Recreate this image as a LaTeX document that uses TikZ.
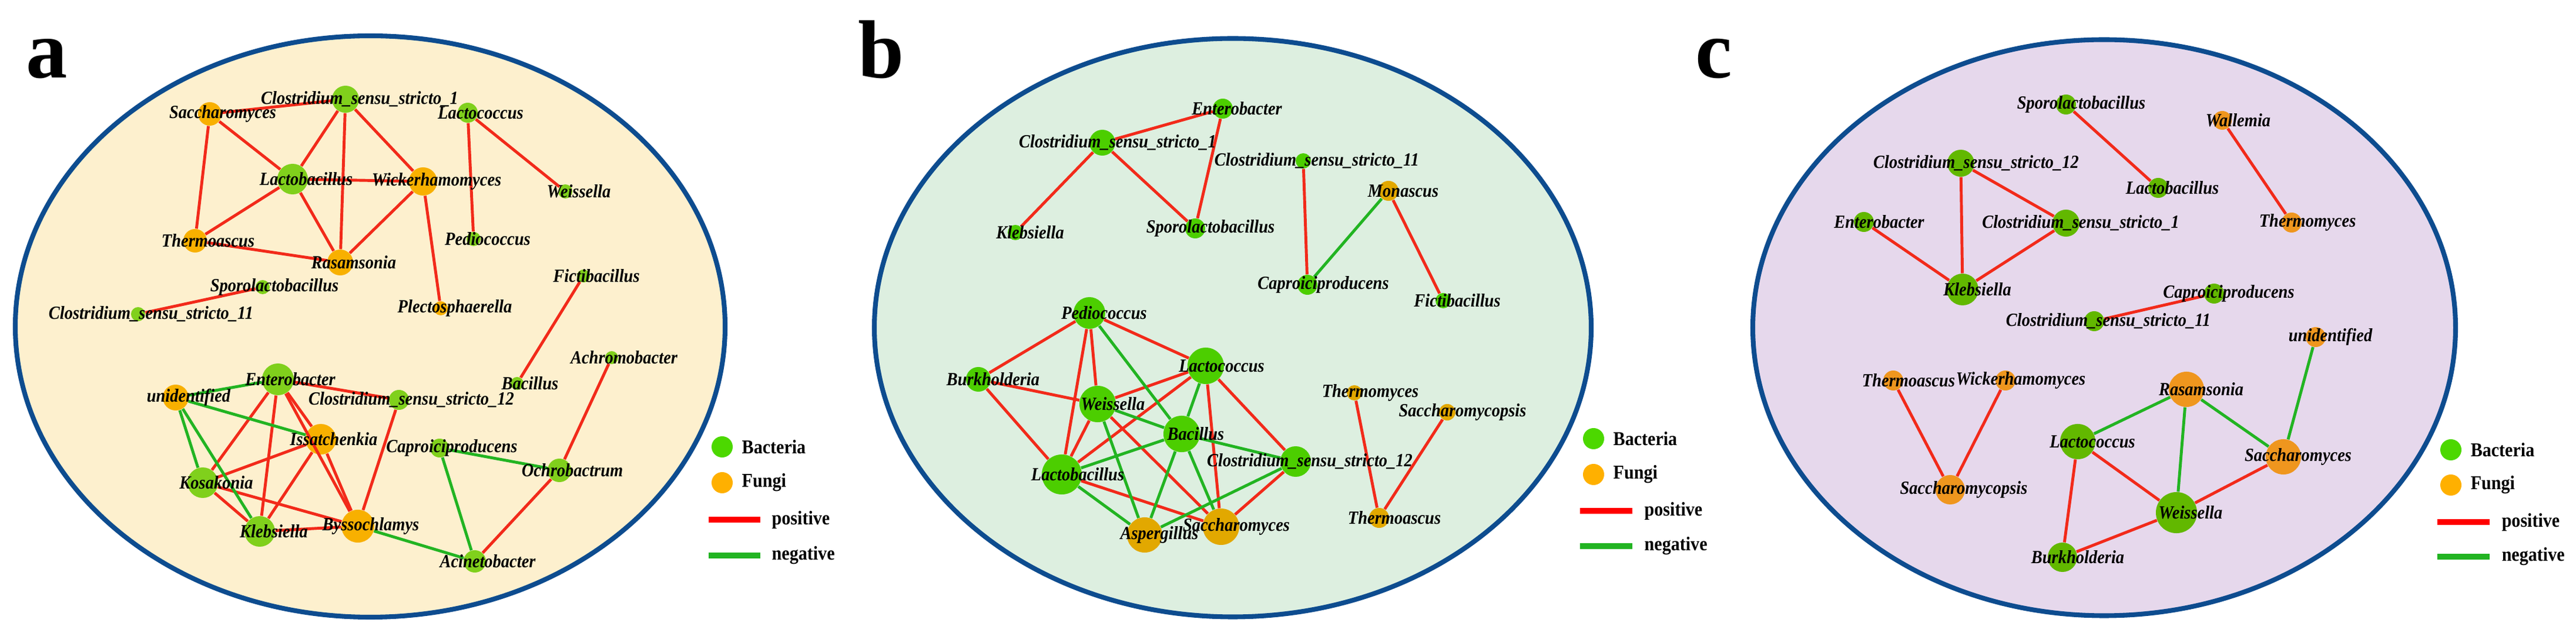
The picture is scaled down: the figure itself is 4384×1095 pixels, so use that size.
\documentclass[tikz,border=0pt]{standalone}
\usepackage{fontspec}
\usetikzlibrary{shapes.geometric}
\setmainfont{Liberation Serif}
\newfontfamily\labfont{Liberation Serif}[FakeStretch=0.9]
\begin{document}
\begin{tikzpicture}[x=0.01cm,y=-0.01cm,
  lab/.style={font=\labfont\fontsize{9}{9}\selectfont\bfseries\itshape,inner sep=0pt},
  leg/.style={font=\labfont\fontsize{9.5}{10}\selectfont\bfseries,inner sep=0pt,anchor=west},
  pl/.style={font=\fontsize{40}{40}\selectfont\bfseries,inner sep=0pt,anchor=base west},
  nd/.style={circle,inner sep=0pt,draw=none},
  posE/.style={draw=edR,line width=1.4pt},
  negE/.style={draw=edG,line width=1.4pt},
  ring/.style={draw=ringB,line width=2.3pt}]
\definecolor{edR}{HTML}{F22A1A}
\definecolor{edG}{HTML}{22B422}
\definecolor{ringB}{HTML}{0D4C8F}
\definecolor{bgA}{HTML}{FDF0CE}
\definecolor{bgB}{HTML}{DDEFE0}
\definecolor{bgC}{HTML}{E6D8EC}
\definecolor{baA}{HTML}{80D01C}
\definecolor{fuA}{HTML}{F8B000}
\definecolor{baB}{HTML}{4CCE00}
\definecolor{fuB}{HTML}{E2A800}
\definecolor{baC}{HTML}{62B800}
\definecolor{fuC}{HTML}{EF961E}
\definecolor{lgB}{HTML}{4CD800}
\definecolor{lgF}{HTML}{FFB000}
\useasboundingbox (0,0) rectangle (4384,1095);
\newcommand\Nd[5]{\node[nd,fill=#5,minimum size=#4*0.02cm] (#1) at (#2,#3) {};}
\newcommand\Lb[4]{\node[lab] (#1-l) at (#2,#3) {#4};}
%%%%%%%%%%%%%%%% panel a
\node[pl] (la) at (44,133) {a};
\node[ring,fill=bgA,ellipse,inner sep=0pt,minimum width=1208*0.01cm,minimum height=990*0.01cm] (ea) at (630,556) {};
\Nd{aCS1}{588}{169}{23}{baA}
\Nd{aSac}{357}{194}{20}{fuA}
\Nd{aLcc}{796}{192}{17}{baA}
\Nd{aLba}{498}{305}{26}{baA}
\Nd{aWic}{720}{309}{24}{fuA}
\Nd{aWei}{962}{326}{12}{baA}
\Nd{aThe}{332}{410}{20}{fuA}
\Nd{aPed}{806}{407}{12}{baA}
\Nd{aRas}{579}{447}{22}{fuA}
\Nd{aSpo}{447}{489}{12}{baA}
\Nd{aC11}{235}{535}{12}{baA}
\Nd{aPle}{750}{525}{12}{fuA}
\Nd{aFic}{993}{470}{11}{baA}
\Nd{aAch}{1041}{609}{11}{baA}
\Nd{aBac}{880}{653}{11}{baA}
\Nd{aEnt}{473}{646}{27}{baA}
\Nd{aUni}{299}{677}{22}{fuA}
\Nd{aC12}{679}{681}{17}{baA}
\Nd{aIss}{546}{748}{26}{fuA}
\Nd{aCap}{748}{763}{16}{baA}
\Nd{aOch}{952}{801}{20}{baA}
\Nd{aKos}{345}{822}{26}{baA}
\Nd{aKle}{442}{905}{26}{baA}
\Nd{aBys}{609}{896}{28}{fuA}
\Nd{aAci}{808}{956}{19}{baA}
\foreach \u/\v in {aSac/aCS1,aSac/aLba,aSac/aThe,aCS1/aLba,aCS1/aRas,aCS1/aWic,aLba/aWic,aLba/aThe,aLba/aRas,aWic/aRas,aWic/aPle,aThe/aRas,aLcc/aWei,aLcc/aPed,aSpo/aC11,aFic/aBac,aAch/aOch,aOch/aAci,aEnt/aC12,aEnt/aKos,aEnt/aKle,aEnt/aIss,aEnt/aBys,aIss/aKos,aIss/aKle,aIss/aBys,aKos/aKle,aKos/aBys,aKle/aBys,aC12/aBys}
  \draw[posE] (\u) -- (\v);
\foreach \u/\v in {aUni/aEnt,aUni/aIss,aUni/aKos,aUni/aKle,aCap/aOch,aCap/aAci,aBys/aAci}
  \draw[negE] (\u) -- (\v);
\Lb{aCS1}{612}{169}{Clostridium\_sensu\_stricto\_1}
\Lb{aSac}{379}{194}{Saccharomyces}
\Lb{aLcc}{818}{192}{Lactococcus}
\Lb{aLba}{521}{305}{Lactobacillus}
\Lb{aWic}{743}{309}{Wickerhamomyces}
\Lb{aWei}{985}{326}{Weissella}
\Lb{aThe}{354}{410}{Thermoascus}
\Lb{aPed}{830}{407}{Pediococcus}
\Lb{aRas}{602}{447}{Rasamsonia}
\Lb{aSpo}{467}{489}{Sporolactobacillus}
\Lb{aC11}{257}{535}{Clostridium\_sensu\_stricto\_11}
\Lb{aPle}{774}{525}{Plectosphaerella}
\Lb{aFic}{1015}{470}{Fictibacillus}
\Lb{aAch}{1062}{609}{Achromobacter}
\Lb{aBac}{902}{653}{Bacillus}
\Lb{aEnt}{494}{646}{Enterobacter}
\Lb{aUni}{321}{677}{unidentified}
\Lb{aC12}{700}{681}{Clostridium\_sensu\_stricto\_12}
\Lb{aIss}{568}{748}{Issatchenkia}
\Lb{aCap}{769}{763}{Caproiciproducens}
\Lb{aOch}{974}{801}{Ochrobactrum}
\Lb{aKos}{368}{822}{Kosakonia}
\Lb{aKle}{466}{905}{Klebsiella}
\Lb{aBys}{631}{896}{Byssochlamys}
\Lb{aAci}{830}{956}{Acinetobacter}
\node[nd,fill=lgB,minimum size=0.36cm] (aLB) at (1229,761) {};
\node[nd,fill=lgF,minimum size=0.36cm] (aLF) at (1229,822) {};
\node[leg] (aLBt) at (1262,761) {Bacteria};
\node[leg] (aLFt) at (1262,822) {Fungi};
\coordinate (aP1) at (1206,885); \coordinate (aP2) at (1294,885);
\coordinate (aN1) at (1206,946); \coordinate (aN2) at (1294,946);
\draw[red,line width=2.8pt] (aP1) -- (aP2);
\draw[edG,line width=2.8pt] (aN1) -- (aN2);
\node[leg] (aPt) at (1313,885) {positive};
\node[leg] (aNt) at (1313,946) {negative};
%%%%%%%%%%%%%%%% panel b
\node[pl] (lb) at (1460,133) {b};
\node[ring,fill=bgB,ellipse,inner sep=0pt,minimum width=1220*0.01cm,minimum height=985*0.01cm] (eb) at (2098,558) {};
\Nd{bEnt}{2081}{185}{17}{baB}
\Nd{bCS1}{1876}{243}{22}{baB}
\Nd{bC11}{2218}{274}{13}{baB}
\Nd{bMon}{2363}{325}{17}{fuB}
\Nd{bKle}{1728}{396}{13}{baB}
\Nd{bSpo}{2034}{389}{17}{baB}
\Nd{bCap}{2225}{485}{17}{baB}
\Nd{bFic}{2456}{512}{13}{baB}
\Nd{bPed}{1854}{533}{27}{baB}
\Nd{bLcc}{2052}{623}{31}{baB}
\Nd{bBur}{1665}{646}{21}{baB}
\Nd{bWei}{1868}{688}{31}{baB}
\Nd{bThm}{2305}{669}{13}{fuB}
\Nd{bSps}{2463}{702}{14}{fuB}
\Nd{bBac}{2011}{739}{31}{baB}
\Nd{bC12}{2205}{786}{26}{baB}
\Nd{bLba}{1807}{808}{34}{baB}
\Nd{bThe}{2347}{882}{17}{fuB}
\Nd{bAsp}{1948}{911}{30}{fuB}
\Nd{bSac}{2078}{897}{31}{fuB}
\foreach \u/\v in {bEnt/bCS1,bEnt/bSpo,bCS1/bKle,bCS1/bSpo,bC11/bCap,bMon/bFic,bThm/bThe,bSps/bThe,bPed/bBur,bPed/bLcc,bPed/bWei,bPed/bLba,bBur/bWei,bBur/bLba,bLcc/bWei,bLcc/bLba,bLcc/bC12,bLcc/bSac,bWei/bLba,bWei/bSac,bLba/bSac,bC12/bSac}
  \draw[posE] (\u) -- (\v);
\foreach \u/\v in {bMon/bCap,bPed/bBac,bLcc/bBac,bWei/bBac,bWei/bAsp,bBac/bLba,bBac/bC12,bBac/bAsp,bBac/bSac,bLba/bAsp,bAsp/bC12}
  \draw[negE] (\u) -- (\v);
\Lb{bEnt}{2105}{185}{Enterobacter}
\Lb{bCS1}{1902}{243}{Clostridium\_sensu\_stricto\_1}
\Lb{bC11}{2241}{274}{Clostridium\_sensu\_stricto\_11}
\Lb{bMon}{2388}{325}{Monascus}
\Lb{bKle}{1753}{396}{Klebsiella}
\Lb{bSpo}{2060}{389}{Sporolactobacillus}
\Lb{bCap}{2252}{485}{Caproiciproducens}
\Lb{bFic}{2480}{512}{Fictibacillus}
\Lb{bPed}{1879}{533}{Pediococcus}
\Lb{bLcc}{2079}{623}{Lactococcus}
\Lb{bBur}{1690}{646}{Burkholderia}
\Lb{bWei}{1894}{688}{Weissella}
\Lb{bThm}{2332}{669}{Thermomyces}
\Lb{bSps}{2489}{702}{Saccharomycopsis}
\Lb{bBac}{2035}{739}{Bacillus}
\Lb{bC12}{2229}{786}{Clostridium\_sensu\_stricto\_12}
\Lb{bLba}{1834}{808}{Lactobacillus}
\Lb{bThe}{2373}{882}{Thermoascus}
\Lb{bAsp}{1973}{911}{Aspergillus}
\Lb{bSac}{2104}{897}{Saccharomyces}
\node[nd,fill=lgB,minimum size=0.36cm] (bLB) at (2712,747) {};
\node[nd,fill=lgF,minimum size=0.36cm] (bLF) at (2712,808) {};
\node[leg] (bLBt) at (2745,747) {Bacteria};
\node[leg] (bLFt) at (2745,808) {Fungi};
\coordinate (bP1) at (2689,870); \coordinate (bP2) at (2778,870);
\coordinate (bN1) at (2689,930); \coordinate (bN2) at (2778,930);
\draw[red,line width=2.8pt] (bP1) -- (bP2);
\draw[edG,line width=2.8pt] (bN1) -- (bN2);
\node[leg] (bPt) at (2798,870) {positive};
\node[leg] (bNt) at (2798,930) {negative};
%%%%%%%%%%%%%%%% panel c
\node[pl] (lc) at (2885,133) {c};
\node[ring,fill=bgC,ellipse,inner sep=0pt,minimum width=1196*0.01cm,minimum height=981*0.01cm] (ec) at (3581,558) {};
\Nd{cSpo}{3516}{178}{17}{baC}
\Nd{cWal}{3782}{205}{16}{fuC}
\Nd{cC12}{3337}{278}{23}{baC}
\Nd{cLba}{3673}{320}{17}{baC}
\Nd{cEnt}{3172}{378}{17}{baC}
\Nd{cCS1}{3516}{380}{23}{baC}
\Nd{cThm}{3900}{379}{17}{fuC}
\Nd{cKle}{3340}{493}{27}{baC}
\Nd{cCap}{3768}{500}{17}{baC}
\Nd{cC11}{3564}{547}{17}{baC}
\Nd{cUni}{3941}{574}{17}{fuC}
\Nd{cThe}{3222}{648}{17}{fuC}
\Nd{cWic}{3413}{648}{17}{fuC}
\Nd{cRas}{3721}{663}{30}{fuC}
\Nd{cLcc}{3536}{752}{30}{baC}
\Nd{cSac}{3886}{778}{30}{fuC}
\Nd{cSps}{3319}{834}{25}{fuC}
\Nd{cWei}{3704}{873}{35}{baC}
\Nd{cBur}{3510}{949}{25}{baC}
\foreach \u/\v in {cSpo/cLba,cWal/cThm,cC12/cKle,cC12/cCS1,cEnt/cKle,cCS1/cKle,cCap/cC11,cThe/cSps,cWic/cSps,cLcc/cBur,cLcc/cWei,cWei/cBur,cWei/cSac}
  \draw[posE] (\u) -- (\v);
\foreach \u/\v in {cUni/cSac,cRas/cLcc,cRas/cWei,cRas/cSac}
  \draw[negE] (\u) -- (\v);
\Lb{cSpo}{3542}{178}{Sporolactobacillus}
\Lb{cWal}{3809}{205}{Wallemia}
\Lb{cC12}{3363}{278}{Clostridium\_sensu\_stricto\_12}
\Lb{cLba}{3697}{320}{Lactobacillus}
\Lb{cEnt}{3198}{378}{Enterobacter}
\Lb{cCS1}{3541}{380}{Clostridium\_sensu\_stricto\_1}
\Lb{cThm}{3927}{379}{Thermomyces}
\Lb{cKle}{3365}{493}{Klebsiella}
\Lb{cCap}{3793}{500}{Caproiciproducens}
\Lb{cC11}{3588}{547}{Clostridium\_sensu\_stricto\_11}
\Lb{cUni}{3966}{574}{unidentified}
\Lb{cThe}{3248}{648}{Thermoascus}
\Lb{cWic}{3439}{648}{Wickerhamomyces}
\Lb{cRas}{3746}{663}{Rasamsonia}
\Lb{cLcc}{3561}{752}{Lactococcus}
\Lb{cSac}{3911}{778}{Saccharomyces}
\Lb{cSps}{3342}{834}{Saccharomycopsis}
\Lb{cWei}{3728}{873}{Weissella}
\Lb{cBur}{3536}{949}{Burkholderia}
\node[nd,fill=lgB,minimum size=0.36cm] (cLB) at (4171,766) {};
\node[nd,fill=lgF,minimum size=0.36cm] (cLF) at (4171,826) {};
\node[leg] (cLBt) at (4204,766) {Bacteria};
\node[leg] (cLFt) at (4204,826) {Fungi};
\coordinate (cP1) at (4148,889); \coordinate (cP2) at (4237,889);
\coordinate (cN1) at (4148,948); \coordinate (cN2) at (4237,948);
\draw[red,line width=2.8pt] (cP1) -- (cP2);
\draw[edG,line width=2.8pt] (cN1) -- (cN2);
\node[leg] (cPt) at (4257,889) {positive};
\node[leg] (cNt) at (4257,948) {negative};
\end{tikzpicture}
\end{document}
